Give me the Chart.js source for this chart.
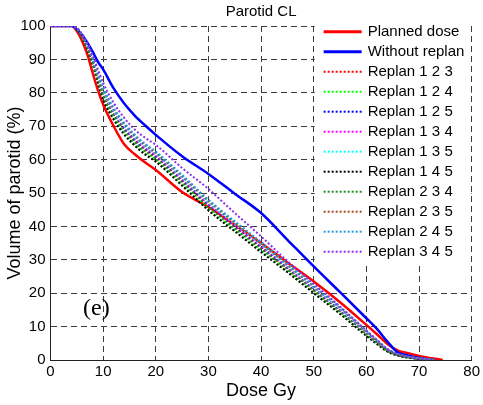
<!DOCTYPE html>
<html><head><meta charset="utf-8">
<script src="https://cdn.jsdelivr.net/npm/chart.js@4.4.1/dist/chart.umd.min.js"></script>
<style>html,body{margin:0;padding:0;background:#fff;}canvas{display:block;}</style>
</head><body>
<canvas id="c" width="483" height="405"></canvas>
<script>
const dose = [0,4,5,6,7,8,9,10,12,14,16,18,20,25,30,35,40,45,50,55,60,62,64,66,68,70,72,73,74.5];

const planned       = [100,100,98.5,95.5,91.5,86,80.8,76.5,70,64.6,61.6,59.1,56.9,50.3,45.8,40.5,35,29.2,23.5,17.3,10.5,7.7,4.8,2.8,2,1.2,0.6,0.4,0];
const withoutReplan = [100,100,99,97.3,95,92.3,89.3,87,81.3,76.8,73.2,70.2,67.4,61,55.7,49.8,44,36,28,20.3,12.5,9.3,5.5,2.2,1.3,0.6,0.1,0,null];
const replan123 = [100,100,99.1,96.8,93.6,89.3,84.1,79.6,73.6,69.1,65.7,62.9,60.8,53.6,46.2,39.9,33.7,27.4,21.0,14.7,7.9,5.3,2.9,1.5,0.8,0.4,0.1,0,null];
const replan124 = [100,100,99,96.6,93.2,88.7,83.3,78.4,72.4,67.9,64.6,61.9,59.8,52.6,45.2,38.9,32.7,26.6,20.3,14.0,7.4,4.9,2.6,1.4,0.7,0.3,0.1,0,null];
const replan125 = [100,100,99.2,96.9,93.7,89.5,84.4,79.9,73.9,69.4,66.0,63.3,61.1,54.0,46.6,40.2,34.0,27.7,21.3,14.9,8.1,5.5,2.9,1.6,0.9,0.4,0.2,0,null];
const replan134 = [100,100,99.2,96.9,93.8,89.6,84.6,80.2,74.2,69.7,66.2,63.5,61.3,54.2,46.8,40.4,34.2,27.8,21.4,15.0,8.2,5.5,3.0,1.6,0.9,0.4,0.2,0,null];
const replan135 = [100,100,99.2,97.0,94.0,89.9,84.9,80.6,74.6,70.1,66.7,63.9,61.7,54.6,47.2,40.8,34.6,28.2,21.7,15.3,8.4,5.7,3.1,1.7,0.9,0.5,0.2,0,null];
const replan145 = [100,100,99,96.5,93,88.5,83,78,72,67.5,64.2,61.5,59.4,52.2,44.8,38.5,32.3,26.3,20,13.8,7.2,4.8,2.5,1.3,0.7,0.3,0.1,0,null];
const replan234 = [100,100,99.1,96.7,93.4,89.0,83.8,79.1,73.1,68.6,65.2,62.5,60.3,53.2,45.8,39.4,33.2,27.1,20.7,14.4,7.7,5.2,2.7,1.5,0.8,0.4,0.1,0,null];
const replan235 = [100,100,99.3,97.1,94.1,90.1,85.2,81.1,75.1,70.6,67.1,64.3,62.0,55.0,47.6,41.1,34.9,28.5,22.0,15.6,8.6,5.9,3.2,1.7,1.0,0.5,0.2,0,null];
const replan245 = [100,100,99.3,97.2,94.3,90.3,85.5,81.5,75.5,71,67.5,64.7,62.4,55.4,48,41.5,35.3,28.8,22.3,15.8,8.8,6,3.3,1.8,1,0.5,0.2,0,null];
const replan345 = [100,100,99.5,97.6,95,91.3,87,83,77,72.5,69,66.5,64.4,57.5,51.2,44,37,29.6,22.8,16,8.8,6,3.3,1.8,1,0.5,0.2,0,null];

const seriesLabels = ['Planned dose','Without replan','Replan 1 2 3','Replan 1 2 4','Replan 1 2 5','Replan 1 3 4','Replan 1 3 5','Replan 1 4 5','Replan 2 3 4','Replan 2 3 5','Replan 2 4 5','Replan 3 4 5'];
const seriesValues = [planned, withoutReplan, replan123, replan124, replan125, replan134, replan135, replan145, replan234, replan235, replan245, replan345];
const xTickValues = [0,10,20,30,40,50,60,70,80];
const yTickValues = [0,10,20,30,40,50,60,70,80,90,100];
const chartTitle = 'Parotid CL';
const xTitle = 'Dose Gy';
const yTitle = 'Volume of parotid (%)';
const panelTag = '(e)';

const seriesStyles = [
  {color:'#ff0000', dash:[], width:2.5},
  {color:'#0000ff', dash:[], width:2.5},
  {color:'#ff0000', dash:[2,2], width:2},
  {color:'#00ff00', dash:[2,2], width:2},
  {color:'#0000ff', dash:[2,2], width:2},
  {color:'#ff00ff', dash:[2,2], width:2},
  {color:'#00ffff', dash:[2,2], width:2},
  {color:'#000000', dash:[2,2], width:2},
  {color:'#1e8c1e', dash:[2,2], width:2},
  {color:'#a64b1e', dash:[2,2], width:2},
  {color:'#1e9be0', dash:[2,2], width:2},
  {color:'#8c2cf0', dash:[2,2], width:2}
];

const FONT = '"Liberation Sans", Arial, sans-serif';

const datasets = seriesValues.map((vals, i) => ({
  label: seriesLabels[i],
  data: dose.map((d, j) => ({x: d, y: vals[j]})),
  borderColor: seriesStyles[i].color,
  backgroundColor: seriesStyles[i].color,
  borderWidth: seriesStyles[i].width,
  borderDash: seriesStyles[i].dash,
  pointRadius: 0,
  fill: false,
  cubicInterpolationMode: 'monotone',
  spanGaps: false,
  order: seriesValues.length - i
}));

const insetLegend = {
  id: 'insetLegend',
  afterDatasetsDraw(chart) {
    const ctx = chart.ctx, a = chart.chartArea;
    const x0 = a.right - 157, y0 = a.top - 4, w = 155.5, h = 242;
    ctx.save();
    ctx.fillStyle = '#fff';
    ctx.fillRect(x0, y0, w, h);
    ctx.font = '15px ' + FONT;
    ctx.textBaseline = 'middle';
    ctx.textAlign = 'left';
    chart.data.datasets.forEach((ds, i) => {
      const y = a.top + 5.7 + i * 20;
      ctx.beginPath();
      ctx.strokeStyle = ds.borderColor;
      ctx.lineWidth = i < 2 ? 3 : 2;
      ctx.setLineDash(ds.borderDash || []);
      ctx.moveTo(x0 + 9, y);
      ctx.lineTo(x0 + 47, y);
      ctx.stroke();
      ctx.setLineDash([]);
      ctx.fillStyle = '#000';
      ctx.fillText(ds.label, x0 + 53, y + 0.5);
    });
    // panel tag
    const xs = chart.scales.x, ys = chart.scales.y;
    ctx.font = '24px "Liberation Serif", "Times New Roman", serif';
    ctx.textAlign = 'center';
    ctx.fillText(panelTag, xs.getPixelForValue(8.7), ys.getPixelForValue(15.4));
    ctx.restore();
  }
};

new Chart(document.getElementById('c'), {
  type: 'line',
  data: { datasets },
  plugins: [insetLegend],
  options: {
    responsive: false,
    animation: false,
    layout: { padding: { left: 0, right: 10.5, top: 0, bottom: 0 } },
    plugins: {
      legend: { display: false },
      tooltip: { enabled: false },
      title: {
        display: true, text: chartTitle, fullSize: false, color: '#000',
        font: { family: FONT, size: 15, weight: 'normal', lineHeight: 1.2 },
        padding: { top: 3, bottom: 5 }
      }
    },
    scales: {
      x: {
        type: 'linear', min: 0, max: 80,
        afterBuildTicks: s => { s.ticks = xTickValues.map(v => ({value: v})); },
        afterFit: s => { s.height = 45; },
        ticks: { color: '#000', font: { family: FONT, size: 15 }, padding: 3, maxRotation: 0 },
        grid: { color: '#3a3a3a', lineWidth: 1, drawTicks: false },
        border: { display: true, color: '#222', width: 1, dash: [6, 4] },
        title: { display: true, text: xTitle, color: '#000', font: { family: FONT, size: 18 }, padding: { top: 0, bottom: 2.7 } }
      },
      y: {
        type: 'linear', min: 0, max: 100,
        afterBuildTicks: s => { s.ticks = yTickValues.map(v => ({value: v})); },
        afterFit: s => { s.width = 50.5; },
        ticks: { color: '#000', font: { family: FONT, size: 15 }, padding: 5 },
        grid: { color: '#3a3a3a', lineWidth: 1, drawTicks: false },
        border: { display: true, color: '#222', width: 1, dash: [6, 4] },
        title: { display: true, text: yTitle, color: '#000', font: { family: FONT, size: 18 }, padding: { top: 4, bottom: 0 } }
      }
    }
  }
});
</script>
</body></html>
